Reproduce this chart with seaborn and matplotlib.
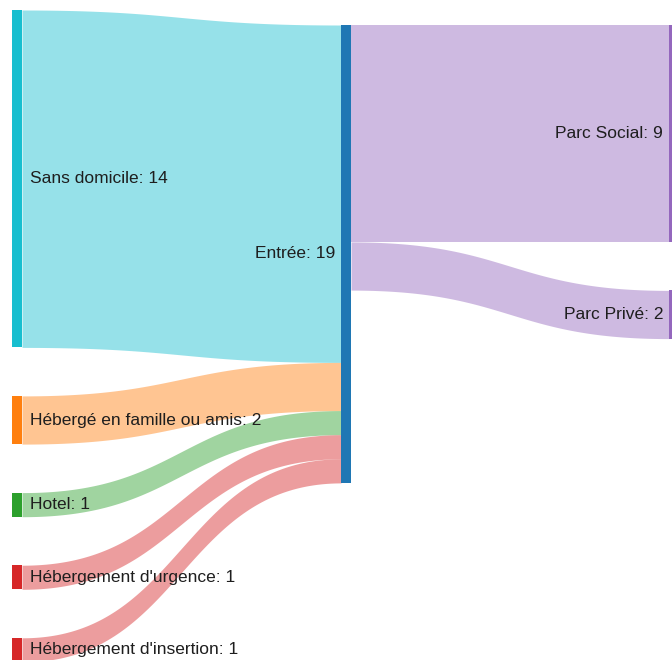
import numpy as np
import matplotlib
matplotlib.use("Agg")
import matplotlib.pyplot as plt
import seaborn as sns

# data
sources = ["Sans domicile", "Hébergé en famille ou amis", "Hotel",
           "Hébergement d'urgence", "Hébergement d'insertion"]
source_values = [14, 2, 1, 1, 1]
hub_label = "Entrée"
hub_value = 19
targets = ["Parc Social", "Parc Privé"]
target_values = [9, 2]

sns.set_theme(style="white")
plt.rcParams['font.family'] = ['Liberation Sans', 'DejaVu Sans']

pal = sns.color_palette("tab10")
source_colors = [pal[9], pal[1], pal[2], pal[3], pal[3]]
hub_color = pal[0]
target_colors = [pal[4], pal[4]]

# layout (pixels)
W, H = 672, 660
scale = 24.1          # px per unit
pad = 48.5
node_w = 10
col_x = [12, 341, 669]
col_top = [10, 25, 25]

fig = plt.figure(figsize=(W / 100, H / 100), dpi=100)
ax = fig.add_axes([0, 0, 1, 1])
ax.set_xlim(0, W)
ax.set_ylim(H, 0)
ax.axis("off")


def stack(values, top):
    out = []
    y = top
    for v in values:
        out.append((y, y + v * scale))
        y += v * scale + pad
    return out


def link(x0, x1, a, b, color):
    t = np.linspace(0, 1, 200)
    xm = (x0 + x1) / 2
    x = (1 - t) ** 3 * x0 + 3 * (1 - t) ** 2 * t * xm + 3 * (1 - t) * t ** 2 * xm + t ** 3 * x1
    s = 3 * (1 - t) * t ** 2 + t ** 3
    top = a[0] + (b[0] - a[0]) * s
    bot = a[1] + (b[1] - a[1]) * s
    ax.fill_between(x, top, bot, color=color, alpha=0.45, lw=0, zorder=1)


src_pos = stack(source_values, col_top[0])
hub_pos = (col_top[1], col_top[1] + hub_value * scale)
tgt_pos = stack(target_values, col_top[2])

# links into the hub
y = hub_pos[0]
for (a0, a1), v, c in zip(src_pos, source_values, source_colors):
    link(col_x[0] + node_w, col_x[1], (a0, a1), (y, y + v * scale), c)
    y += v * scale

# links out of the hub
y = hub_pos[0]
for (b0, b1), v, c in zip(tgt_pos, target_values, target_colors):
    link(col_x[1] + node_w, col_x[2], (y, y + v * scale), (b0, b1), c)
    y += v * scale

# nodes
fs = 12.5
txt = "#1e1e1e"
for (a0, a1), name, v, c in zip(src_pos, sources, source_values, source_colors):
    ax.bar(col_x[0] + node_w / 2, a1 - a0, bottom=a0, width=node_w, color=c, lw=0, zorder=2)
    ax.text(col_x[0] + node_w + 8, (a0 + a1) / 2, f"{name}: {v}", ha="left", va="center",
            fontsize=fs, color=txt, zorder=3)

ax.bar(col_x[1] + node_w / 2, hub_pos[1] - hub_pos[0], bottom=hub_pos[0], width=node_w,
       color=hub_color, lw=0, zorder=2)
ax.text(col_x[1] - 6, sum(hub_pos) / 2, f"{hub_label}: {hub_value}", ha="right", va="center",
        fontsize=fs, color=txt, zorder=3)

for (b0, b1), name, v, c in zip(tgt_pos, targets, target_values, target_colors):
    ax.bar(col_x[2] + node_w / 2, b1 - b0, bottom=b0, width=node_w, color=c, lw=0, zorder=2)
    ax.text(col_x[2] - 6, (b0 + b1) / 2, f"{name}: {v}", ha="right", va="center",
            fontsize=fs, color=txt, zorder=3)

fig.savefig("out.png", dpi=100)
